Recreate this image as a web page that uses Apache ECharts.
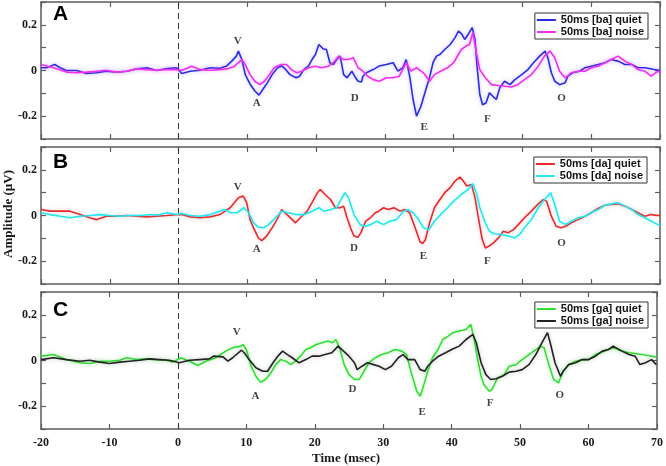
<!DOCTYPE html>
<html><head><meta charset="utf-8">
<script src="https://cdn.jsdelivr.net/npm/echarts@6/dist/echarts.min.js"></script>
<style>html,body{margin:0;padding:0;background:#fff}#c{width:666px;height:466px}</style>
</head><body><div id="c"></div>
<script>
// ---------- data ----------
const xMin = -20, xMax = 70, xInterval = 10;
const yMin = -0.3, yMax = 0.3, yInterval = 0.1;
const yLabelValues = [-0.2, 0, 0.2];
const panelLetters = ['A', 'B', 'C'];
const peakNames = ['V', 'A', 'D', 'E', 'F', 'O'];

const legendNamesA = ['50ms [ba] quiet', '50ms [ba] noise'];
const legendNamesB = ['50ms [da] quiet', '50ms [da] noise'];
const legendNamesC = ['50ms [ga] quiet', '50ms [ga] noise'];

const baQuiet = [[-20,0.012],[-19.2,0.012],[-18,0.026],[-17.2,0.012],[-16.3,0],[-14.8,0],[-13.4,-0.013],[-11.9,-0.01],[-10.5,-0.003],[-9,-0.007],[-7.5,-0.003],[-6.1,0.007],[-4.6,0.012],[-3.2,0],[-1.7,0.009],[-0.3,0.012],[0.45,-0.013],[1.7,-0.003],[3.1,0.001],[4.6,0.012],[6,0.01],[7,0.02],[7.7,0.04],[8.4,0.063],[8.7,0.085],[9.2,0.048],[9.7,-0.018],[10.4,-0.06],[11.1,-0.09],[11.7,-0.108],[12.1,-0.09],[12.9,-0.054],[13.6,-0.018],[14.4,0.012],[15,0.02],[15.5,0.007],[16.2,-0.018],[17.1,-0.032],[17.6,-0.025],[18.2,0.004],[18.9,0.02],[19.4,0.048],[19.9,0.07],[20.4,0.114],[21,0.095],[21.5,0.092],[22,0.034],[22.5,0.026],[23,0.048],[23.5,0.063],[24,-0.018],[24.5,-0.032],[25.2,-0.003],[25.6,-0.025],[26.1,-0.047],[26.6,-0.05],[26.8,-0.025],[27.3,-0.01],[28.3,0.004],[29.2,0.02],[30.2,0.026],[31.2,0.034],[31.9,-0.003],[32.6,0.012],[33.1,0.048],[33.6,-0.025],[34.1,-0.127],[34.6,-0.2],[35.2,-0.16],[35.8,-0.1],[36.5,-0.03],[37,0.034],[37.5,0.063],[38,0.07],[38.7,0.092],[39.5,0.114],[40.2,0.144],[40.7,0.173],[41.2,0.158],[41.6,0.136],[42.1,0.158],[42.7,0.188],[43.1,0.136],[43.4,0.019],[43.8,-0.105],[44.2,-0.15],[44.7,-0.142],[45.2,-0.098],[45.7,-0.113],[46.2,-0.127],[46.7,-0.076],[47.4,-0.047],[48.2,-0.062],[48.9,-0.04],[49.9,-0.018],[50.8,0.004],[51.6,0.034],[52.5,0.063],[53.3,0.085],[53.7,0.056],[54.2,-0.01],[54.7,-0.047],[55.4,-0.062],[56.2,-0.054],[56.6,-0.025],[57.3,-0.01],[58.3,-0.003],[59.1,0.012],[60,0.019],[61,0.026],[62,0.034],[62.9,0.048],[63.9,0.041],[64.9,0.026],[65.9,0.026],[66.8,0.012],[67.8,0.012],[69.2,0.004],[70,0]];
const baNoise = [[-20,0.026],[-18.2,0.012],[-16.3,-0.007],[-14.8,-0.01],[-13.4,-0.007],[-11.9,-0.003],[-10.5,0.001],[-9,-0.007],[-7.5,-0.003],[-6.1,0.007],[-4.6,0.004],[-3.2,0.001],[-1.7,0.004],[-0.3,0.004],[0.45,0],[1.9,0.019],[3.1,0.004],[4.6,0.001],[6,0.004],[7,0.007],[8,0.016],[9.2,0.048],[9.7,0.026],[10.4,-0.018],[11.1,-0.047],[11.8,-0.062],[12.5,-0.047],[13.2,-0.018],[13.9,0.012],[14.9,0.026],[15.7,0.026],[16.4,0.004],[17.2,-0.01],[17.9,-0.003],[18.9,0.012],[19.9,0.019],[20.8,0.012],[21.8,0.019],[22.5,0.034],[23.3,0.063],[24,0.048],[24.7,0.048],[25.4,0.056],[26.1,0.012],[26.8,-0.003],[27.5,-0.025],[28.3,-0.04],[29.2,-0.047],[30.2,-0.032],[31.2,-0.032],[32.1,-0.025],[33.1,0.034],[33.8,-0.003],[34.6,0.012],[35.6,-0.01],[36.5,-0.047],[37.2,-0.018],[38.1,-0.003],[39.1,0.012],[40,0.034],[41.1,0.092],[41.8,0.107],[42.3,0.114],[42.8,0.166],[43.3,0.078],[43.8,0.004],[44.6,-0.032],[45.5,-0.062],[46.5,-0.066],[47.4,-0.069],[48.4,-0.072],[49.3,-0.062],[50.3,-0.04],[51.3,-0.018],[52.3,0.019],[53.2,0.063],[54,0.085],[54.7,0.056],[55.4,-0.003],[56.2,-0.032],[57.1,-0.01],[58.1,-0.003],[59.1,-0.003],[60,0.012],[61,0.019],[62,0.034],[62.9,0.048],[63.9,0.063],[64.9,0.041],[65.9,0.026],[66.8,0.004],[67.8,-0.003],[68.7,-0.025],[69.7,-0.003],[70,-0.01]];

const daQuiet = [[-20,0.026],[-18.7,0.019],[-17.2,0.019],[-15.8,0.019],[-14.3,0.004],[-12.9,-0.01],[-11.9,-0.018],[-10.5,-0.003],[-9,-0.003],[-7.5,0],[-6.1,-0.003],[-4.6,-0.006],[-3.2,-0.003],[-1.7,0],[-0.3,0.003],[0.45,0.004],[1.7,-0.006],[3.1,-0.01],[4.6,-0.006],[6,0.004],[7.5,0.034],[8.7,0.078],[9.4,0.085],[9.9,0.056],[10.4,-0.018],[10.9,-0.054],[11.6,-0.098],[12.1,-0.11],[12.8,-0.09],[13.6,-0.054],[14.3,-0.018],[15,0.026],[16,-0.003],[17,-0.032],[17.7,-0.01],[18.7,0.019],[19.4,0.056],[20.2,0.1],[20.6,0.114],[21.3,0.092],[22.1,0.07],[22.8,0.034],[23.5,0.034],[24,0.041],[24.5,-0.01],[25,-0.054],[25.5,-0.09],[26.1,-0.095],[26.5,-0.076],[27.2,-0.025],[27.9,-0.01],[28.6,0.012],[29.1,0.019],[29.8,0.034],[30.5,0.026],[31.3,0.034],[32.2,0.019],[32.9,0.026],[33.6,0.012],[34.4,-0.054],[35.1,-0.115],[35.5,-0.123],[35.9,-0.105],[36.5,-0.032],[37.2,0.034],[38,0.07],[38.7,0.1],[39.5,0.122],[40.2,0.151],[40.9,0.168],[41.4,0.151],[41.9,0.129],[42.6,0.136],[43.1,0.078],[43.6,-0.01],[44.1,-0.098],[44.6,-0.142],[45.1,-0.135],[45.8,-0.12],[46.5,-0.098],[47.2,-0.069],[47.9,-0.076],[48.7,-0.062],[49.4,-0.04],[50.3,-0.01],[51.3,0.019],[52.3,0.051],[53,0.07],[53.5,0.063],[54.2,-0.003],[54.9,-0.047],[55.6,-0.054],[56.3,-0.047],[57.1,-0.032],[58.1,-0.018],[59.1,-0.003],[60,0.012],[61,0.031],[62,0.045],[62.9,0.048],[63.9,0.051],[64.9,0.041],[65.9,0.026],[66.8,0.012],[67.8,-0.003],[68.7,0.004],[69.7,0],[70,0.002]];
const daNoise = [[-20,0.012],[-18.7,0.004],[-17.2,-0.003],[-15.8,-0.01],[-14.3,-0.003],[-12.9,0],[-11.4,0.004],[-10,0],[-8.5,-0.003],[-7.1,0],[-5.6,0],[-4.2,0.003],[-2.7,0.004],[-1.7,0.012],[-0.3,0.004],[0.45,0.009],[1.7,0],[3.1,-0.003],[4.6,0.004],[6,0.019],[6.6,0.026],[7.6,0.012],[8.5,0.012],[9.5,0.034],[10.2,0.012],[10.9,-0.032],[11.6,-0.051],[12.4,-0.054],[13.1,-0.04],[14.1,-0.01],[15,0.019],[16,0.012],[17,0.004],[18.3,0.004],[19.4,0.019],[20.4,0.034],[21.1,0.019],[22.1,0.026],[23,0.034],[23.5,0.063],[24.2,0.1],[24.7,0.078],[25.5,0.004],[26.4,-0.04],[27.2,-0.047],[27.9,-0.04],[28.8,-0.025],[29.8,-0.04],[30.7,-0.025],[31.7,-0.018],[32.7,0.019],[33.4,0.026],[34.1,0.012],[34.9,-0.018],[35.6,-0.054],[36.4,-0.062],[37.2,-0.025],[38.1,0.004],[39.1,0.034],[40,0.063],[41.1,0.092],[42.1,0.114],[42.8,0.139],[43.3,0.1],[43.8,0.034],[44.6,-0.032],[45.2,-0.069],[45.9,-0.08],[46.9,-0.083],[47.9,-0.09],[48.9,-0.098],[49.6,-0.083],[50.3,-0.054],[51.3,-0.018],[52.3,0.034],[53.2,0.07],[54.1,0.1],[54.7,0.048],[55.4,-0.025],[56.2,-0.04],[57.1,-0.025],[58.1,-0.01],[59.1,-0.003],[60,0.012],[61,0.026],[62,0.045],[62.9,0.051],[63.9,0.056],[64.9,0.041],[65.9,0.026],[66.8,0.004],[67.8,-0.01],[68.7,-0.025],[69.7,-0.04],[70,-0.04]];

const gaQuiet = [[-20,0.019],[-18.2,0.026],[-16.3,0.004],[-14.3,-0.01],[-12.9,-0.013],[-11.4,-0.003],[-10,-0.003],[-8.5,0.001],[-7.5,0.012],[-6.1,0.004],[-4.6,0.007],[-3.2,0.004],[-1.7,0.001],[-0.8,-0.007],[0.45,0.012],[1.7,-0.003],[2.9,-0.022],[4.1,-0.003],[5.5,0.012],[7,0.041],[8,0.056],[9.2,0.063],[9.5,0.07],[10,0.048],[10.7,-0.025],[11.4,-0.069],[12.1,-0.095],[12.8,-0.083],[13.6,-0.054],[14.3,-0.018],[15,0.004],[15.8,-0.003],[16.5,-0.018],[17.2,-0.003],[17.9,0.019],[18.7,0.048],[19.4,0.056],[20.2,0.07],[21.1,0.078],[21.9,0.085],[22.6,0.078],[23.1,0.092],[23.7,0.048],[24.3,-0.018],[25,-0.062],[25.8,-0.083],[26.5,-0.083],[27.2,-0.047],[27.9,-0.01],[28.8,0.012],[29.8,0.026],[30.7,0.034],[31.7,0.048],[32.7,0.041],[33.4,0.026],[34.1,-0.054],[34.9,-0.135],[35.4,-0.157],[35.8,-0.12],[36.5,-0.047],[37.2,0.012],[38,0.048],[38.7,0.092],[39.5,0.107],[40.2,0.122],[41.1,0.129],[42.1,0.136],[42.8,0.158],[43.3,0.092],[43.8,0.004],[44.3,-0.069],[44.7,-0.105],[45.5,-0.135],[45.9,-0.127],[46.7,-0.076],[47.7,-0.062],[48.4,-0.025],[49.4,-0.018],[50.3,0.004],[51.3,0.026],[52.3,0.048],[53,0.063],[53.5,0.056],[54.2,-0.018],[54.9,-0.083],[55.6,-0.098],[56.3,-0.047],[57.1,-0.018],[58.1,-0.003],[59.1,0.004],[60,0.004],[61,0.026],[62,0.037],[62.9,0.048],[63.6,0.056],[64.9,0.041],[65.9,0.034],[66.8,0.031],[67.8,0.026],[68.7,0.022],[69.7,0.016],[70,0.015]];
const gaNoise = [[-20,0.004],[-18.2,0.012],[-16.3,0.004],[-14.3,-0.003],[-12.9,0.001],[-11.4,-0.007],[-10,-0.013],[-8.5,-0.007],[-7.1,-0.003],[-5.6,0.001],[-4.2,0.007],[-2.7,0.004],[-1.25,0.001],[0.2,-0.01],[1.7,0.001],[3.1,0.004],[4.6,0.007],[5.2,0.019],[6.6,0.016],[7.3,-0.003],[8,0.012],[9.3,0.045],[9.7,0.034],[10.4,0.004],[11.4,-0.032],[12.4,-0.047],[13.1,-0.047],[13.9,-0.01],[14.6,0.019],[15.3,0.041],[16,0.026],[16.7,0.012],[17.7,-0.01],[18.7,0.004],[19.6,0.019],[20.6,0.019],[21.5,0.026],[22.5,0.034],[23.4,0.063],[24.2,0.041],[25,0.019],[25.8,-0.01],[26.2,-0.04],[26.9,-0.025],[27.7,-0.01],[28.6,-0.018],[29.4,-0.025],[30.3,-0.04],[31.2,-0.025],[32.2,0.012],[32.9,0.026],[33.6,0.004],[34.6,0.004],[35.4,-0.04],[36.1,-0.047],[36.5,-0.025],[37.2,-0.003],[38.1,0.019],[39.1,0.034],[40,0.048],[41.1,0.063],[42.1,0.092],[43.1,0.114],[43.6,0.078],[44.3,-0.01],[45,-0.062],[45.7,-0.083],[46.5,-0.08],[47.4,-0.069],[48.4,-0.051],[49.4,-0.047],[50.3,-0.04],[51.3,-0.018],[52.3,0.026],[53.2,0.078],[54,0.122],[54.4,0.078],[55.1,-0.01],[55.9,-0.069],[56.3,-0.047],[57.1,-0.018],[58.1,-0.01],[59.1,0.004],[60,0.004],[61,0.019],[62,0.041],[62.9,0.048],[63.6,0.063],[64.9,0.041],[65.9,0.026],[66.8,0.019],[67.5,-0.018],[68.3,-0.01],[69.2,0.004],[69.9,-0.018]];

// peak label anchor positions [time, amplitude] per panel, order V A D E F O
const peaksA = [[8.6,0.13],[11.35,-0.145],[25.6,-0.12],[35.7,-0.249],[44.9,-0.211],[55.7,-0.123]];
const peaksB = [[8.6,0.124],[11.35,-0.146],[25.5,-0.142],[35.6,-0.179],[44.9,-0.2],[55.7,-0.12]];
const peaksC = [[8.6,0.122],[11.35,-0.154],[25.5,-0.127],[35.7,-0.226],[45.6,-0.186],[55.8,-0.151]];

// ---------- styling / layout ----------
const panels = [
  {names: legendNamesA, q: baQuiet, n: baNoise, peaks: peaksA, qc: '#2b2be0', nc: '#f22ef0', qg: 'rgba(60,60,255,0.35)', ng: 'rgba(255,80,255,0.35)', top: 2, legTop: 13, legRight: 18, letterY: 15},
  {names: legendNamesB, q: daQuiet, n: daNoise, peaks: peaksB, qc: '#e8282a', nc: '#22e6f0', qg: 'rgba(255,90,90,0.35)', ng: 'rgba(60,240,250,0.35)', top: 147, legTop: 157, legRight: 19, letterY: 163},
  {names: legendNamesC, q: gaQuiet, n: gaNoise, peaks: peaksC, qc: '#2ee02e', nc: '#222222', qg: 'rgba(80,240,80,0.35)', ng: 'rgba(60,60,60,0.3)', top: 292, legTop: 302, legRight: 18, letterY: 311}
];
const gridH = 137;
const axisCol = '#5c5c5c';
const serifBold = {fontFamily: 'Liberation Serif', fontWeight: 'bold', fontSize: 12, color: '#1a1a1a'};

function yFmt(v) {
  for (const l of yLabelValues) if (Math.abs(v - l) < 1e-6) return String(l);
  return '';
}

const grids = [], xAxes = [], yAxes = [], series = [], legends = [], graphics = [];
panels.forEach((p, i) => {
  grids.push({left: 41, right: 6, top: p.top, height: gridH});
  const isLast = i === panels.length - 1;
  const baseX = {type: 'value', gridIndex: i, min: xMin, max: xMax, interval: xInterval,
    axisLine: {show: true, onZero: false, lineStyle: {color: axisCol, width: 1.5}},
    axisTick: {show: true, inside: true, length: 5, lineStyle: {color: axisCol, width: 1.2}},
    splitLine: {show: false}};
  xAxes.push(Object.assign({}, baseX, {position: 'bottom',
    axisLabel: {show: isLast, margin: 8, ...serifBold}}));
  xAxes.push(Object.assign({}, baseX, {position: 'top', axisLabel: {show: false}}));
  const baseY = {type: 'value', gridIndex: i, min: yMin, max: yMax, interval: yInterval,
    axisLine: {show: true, onZero: false, lineStyle: {color: axisCol, width: 1.5}},
    axisTick: {show: true, inside: true, length: 5, lineStyle: {color: axisCol, width: 1.2}},
    splitLine: {show: false}};
  yAxes.push(Object.assign({}, baseY, {position: 'left',
    axisLabel: {show: true, margin: 4, formatter: yFmt, showMinLabel: true, showMaxLabel: true, ...serifBold}}));
  yAxes.push(Object.assign({}, baseY, {position: 'right', axisLabel: {show: false}}));

  const xi = i * 2, yi = i * 2;
  series.push({type: 'line', name: p.names[0], xAxisIndex: xi, yAxisIndex: yi, data: p.q,
    showSymbol: false, symbol: 'none', color: p.qc, z: 3,
    lineStyle: {width: 1.6, color: p.qc, shadowColor: p.qg, shadowBlur: 4},
    markLine: {silent: true, symbol: ['none', 'none'], label: {show: false}, z: 1,
      lineStyle: {type: [6, 4], color: '#333', width: 1}, data: [{xAxis: 0}]}});
  series.push({type: 'line', name: p.names[1], xAxisIndex: xi, yAxisIndex: yi, data: p.n,
    showSymbol: false, symbol: 'none', color: p.nc, z: 4,
    lineStyle: {width: 1.6, color: p.nc, shadowColor: p.ng, shadowBlur: 4}});
  series.push({type: 'scatter', name: 'peaks' + i, xAxisIndex: xi, yAxisIndex: yi, silent: true,
    symbolSize: 0, z: 5,
    data: p.peaks.map((pt, j) => ({value: pt, name: peakNames[j]})),
    label: {show: true, position: 'inside', formatter: '{b}', fontFamily: 'Liberation Serif', fontWeight: 'bold', fontSize: 11, color: '#111'}});

  legends.push({data: p.names, orient: 'vertical', right: p.legRight, top: p.legTop,
    icon: 'rect', itemWidth: 19, itemHeight: 2, itemGap: 0, padding: [1, 4, 1, 2],
    borderColor: '#333', borderWidth: 1, backgroundColor: '#fff', selectedMode: false,
    textStyle: {fontFamily: 'Liberation Sans', fontSize: 11, fontWeight: 'bold', color: '#111', lineHeight: 12}});

  graphics.push({type: 'text', left: 53, top: p.letterY - 11,
    style: {text: panelLetters[i], font: 'bold 21px "Liberation Sans"', fill: '#000'}});
});

graphics.push({type: 'text', x: 8.5, y: 214, rotation: Math.PI / 2,
  style: {text: 'Amplitude (µV)', font: 'bold 13px "Liberation Serif"', fill: '#1a1a1a', align: 'center', verticalAlign: 'middle'}});
graphics.push({type: 'text', x: 346, y: 459,
  style: {text: 'Time (msec)', font: 'bold 13px "Liberation Serif"', fill: '#1a1a1a', align: 'center', verticalAlign: 'middle'}});

const chart = echarts.init(document.getElementById('c'), null, {renderer: 'canvas'});
chart.setOption({
  animation: false,
  backgroundColor: '#fff',
  grid: grids, xAxis: xAxes, yAxis: yAxes, legend: legends, series: series, graphic: graphics
});
</script></body></html>
